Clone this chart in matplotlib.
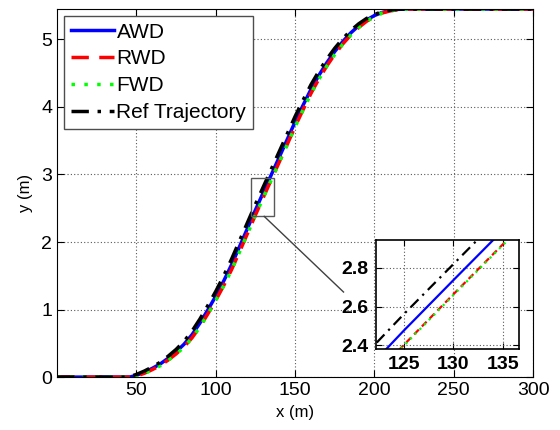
import matplotlib
matplotlib.use('Agg')
from matplotlib import pyplot as plt
from matplotlib.patches import Rectangle

plt.rcParams['font.family'] = ['Liberation Sans', 'DejaVu Sans']

# longitudinal position (m)
x_pts = [0, 42, 46, 50, 55, 60, 65, 70, 75, 80, 85, 90, 95, 100, 105, 110, 115, 120,
         125, 130, 135, 140, 145, 150, 155, 160, 165, 170, 175, 180, 185, 190, 195,
         200, 205, 210, 215, 220, 300]

# lateral position of each trajectory (m)
y_ref = [0, 0, 0.01, 0.04, 0.09, 0.15, 0.22, 0.31, 0.41, 0.53, 0.68, 0.86, 1.06, 1.27,
         1.50, 1.75, 2.02, 2.29, 2.56, 2.82, 3.08, 3.34, 3.60, 3.86, 4.10, 4.33, 4.53,
         4.71, 4.87, 5.01, 5.13, 5.23, 5.31, 5.37, 5.41, 5.435, 5.448, 5.45, 5.45]
y_awd = [0, 0, 0.002, 0.027, 0.072, 0.13, 0.195, 0.28, 0.375, 0.487, 0.627, 0.80, 0.995,
         1.20, 1.423, 1.667, 1.934, 2.204, 2.475, 2.737, 2.997, 3.257, 3.517, 3.78, 4.025,
         4.261, 4.469, 4.656, 4.822, 4.968, 5.095, 5.201, 5.288, 5.354, 5.400, 5.429,
         5.445, 5.45, 5.45]
y_rwd = [0, 0, 0, 0.016, 0.057, 0.111, 0.172, 0.253, 0.344, 0.449, 0.581, 0.746, 0.937,
         1.138, 1.356, 1.594, 1.858, 2.128, 2.401, 2.664, 2.924, 3.184, 3.444, 3.71, 3.959,
         4.201, 4.416, 4.608, 4.78, 4.932, 5.064, 5.176, 5.268, 5.34, 5.392, 5.423,
         5.442, 5.45, 5.45]
y_fwd = [0, 0, 0, 0.015, 0.055, 0.109, 0.169, 0.249, 0.340, 0.445, 0.577, 0.742, 0.933,
         1.134, 1.352, 1.590, 1.854, 2.124, 2.397, 2.660, 2.920, 3.180, 3.440, 3.706, 3.955,
         4.197, 4.412, 4.605, 4.777, 4.930, 5.062, 5.175, 5.267, 5.34, 5.392, 5.423,
         5.442, 5.45, 5.45]

labels = ['AWD', 'RWD', 'FWD', 'Ref Trajectory']

# zoom window
zx = [122.2, 136.6]
zy = [2.38, 2.945]

fig = plt.figure(figsize=(5.6, 4.3), dpi=100)
ax = fig.add_axes([0.102, 0.123, 0.850, 0.856])

lw = 2.5
ax.plot(x_pts, y_awd, color='b', lw=lw, label=labels[0])
ax.plot(x_pts, y_rwd, color='r', lw=lw, ls=(0, (5, 3)), label=labels[1])
ax.plot(x_pts, y_fwd, color=(0, 1, 0), lw=lw, ls=(0, (1, 2.7)), label=labels[2])
ax.plot(x_pts, y_ref, color='k', lw=lw, ls=(0, (5, 2.5, 1, 2.5)), label=labels[3])

ax.set_xlim(0, 300)
ax.set_ylim(0, 5.45)
ax.set_xticks([50, 100, 150, 200, 250, 300])
ax.set_yticks([0, 1, 2, 3, 4, 5])
ax.tick_params(direction='in', top=True, right=True, labelsize=14, length=5)
ax.grid(True, color='0.35', ls=(0, (1, 2)), lw=0.8)
ax.set_xlabel('x (m)', fontsize=12, labelpad=4)
ax.set_ylabel('y (m)', fontsize=12, labelpad=6)

leg = ax.legend(loc='upper left', fontsize=15, handlelength=2.1, handletextpad=0.1,
                labelspacing=0.38, borderpad=0.32, borderaxespad=0.33, fancybox=False,
                framealpha=1)
leg.get_frame().set_edgecolor('0.3')
leg.get_frame().set_linewidth(1.0)

# zoom box and connector
ax.add_patch(Rectangle((zx[0], zy[0]), zx[1] - zx[0], zy[1] - zy[0], fill=False,
                       ec='0.35', lw=1.0, zorder=5))
ax.plot([130.5, 180.5], [2.38, 1.26], color='0.25', lw=1.0, zorder=5)

# inset
axi = fig.add_axes([0.671, 0.188, 0.256, 0.254])
ilw = 1.6
axi.plot(x_pts, y_awd, color='b', lw=ilw)
axi.plot(x_pts, y_rwd, color='r', lw=ilw, ls=(0, (3, 2)))
axi.plot(x_pts, y_fwd, color=(0, 1, 0), lw=ilw, ls=(0, (1, 2)))
axi.plot(x_pts, y_ref, color='k', lw=ilw, ls=(0, (5, 2.5, 1, 2.5)))
axi.set_xlim(zx)
axi.set_ylim(zy)
axi.set_xticks([125, 130, 135])
axi.set_yticks([2.4, 2.6, 2.8])
axi.tick_params(direction='in', top=True, right=True, labelsize=14, length=4, pad=5)
for t in axi.get_xticklabels() + axi.get_yticklabels():
    t.set_fontweight('bold')
axi.grid(True, color='0.35', ls=(0, (1, 2)), lw=0.8)
for s in axi.spines.values():
    s.set_linewidth(1.2)

fig.savefig('out.png', dpi=100)
